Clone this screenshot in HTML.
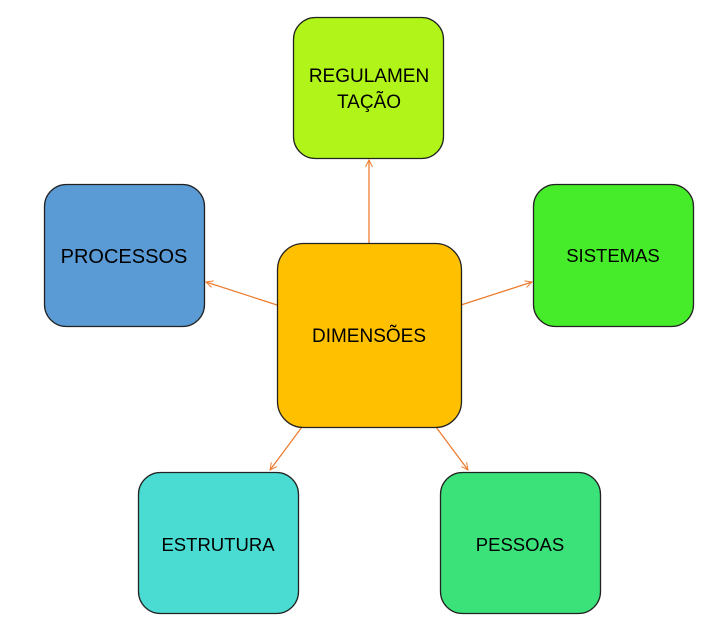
<!DOCTYPE html>
<html><head><style>
html,body{margin:0;padding:0;background:#fff;}
svg{display:block;}
text{font-family:"Liberation Sans",sans-serif;fill:#000;}
</style></head><body>
<svg width="717" height="627" xmlns="http://www.w3.org/2000/svg">
<defs>
<marker id="a" markerWidth="8" markerHeight="8" refX="7" refY="4" orient="auto" markerUnits="userSpaceOnUse">
<path d="M0,0.5 L7,4 L0,7.5" fill="none" stroke="#ed7d31" stroke-width="1"/>
</marker>
</defs>
<g stroke="#ed7d31" stroke-width="1.3" marker-end="url(#a)">
<line x1="369" y1="243" x2="369" y2="160"/>
<line x1="277" y1="305" x2="206" y2="282"/>
<line x1="461" y1="305" x2="532" y2="282"/>
<line x1="302" y1="427" x2="270" y2="470"/>
<line x1="436" y1="427" x2="468" y2="470"/>
</g>
<g stroke="#222" stroke-width="1.3">
<rect x="293.5" y="17.5" width="150" height="141" rx="22" fill="#b0f41a"/>
<rect x="44.5" y="184.5" width="160" height="142" rx="22" fill="#5b9bd5"/>
<rect x="533.5" y="184.5" width="160" height="142" rx="22" fill="#46ec2a"/>
<rect x="277.5" y="243.5" width="184" height="184" rx="26" fill="#ffc000"/>
<rect x="138.5" y="472.5" width="160" height="141" rx="22" fill="#4adcd2"/>
<rect x="440.5" y="472.5" width="160" height="141" rx="22" fill="#3be27a"/>
</g>
<text x="369" y="82" font-size="19" text-anchor="middle">REGULAMEN</text>
<text x="369" y="108" font-size="19" text-anchor="middle">TAÇÃO</text>
<text x="124" y="263" font-size="20" text-anchor="middle">PROCESSOS</text>
<text x="613" y="262" font-size="18.5" text-anchor="middle">SISTEMAS</text>
<text x="369" y="342" font-size="19" text-anchor="middle">DIMENSÕES</text>
<text x="218" y="551" font-size="18.5" text-anchor="middle">ESTRUTURA</text>
<text x="520" y="551" font-size="18.5" text-anchor="middle">PESSOAS</text>
</svg>
</body></html>
